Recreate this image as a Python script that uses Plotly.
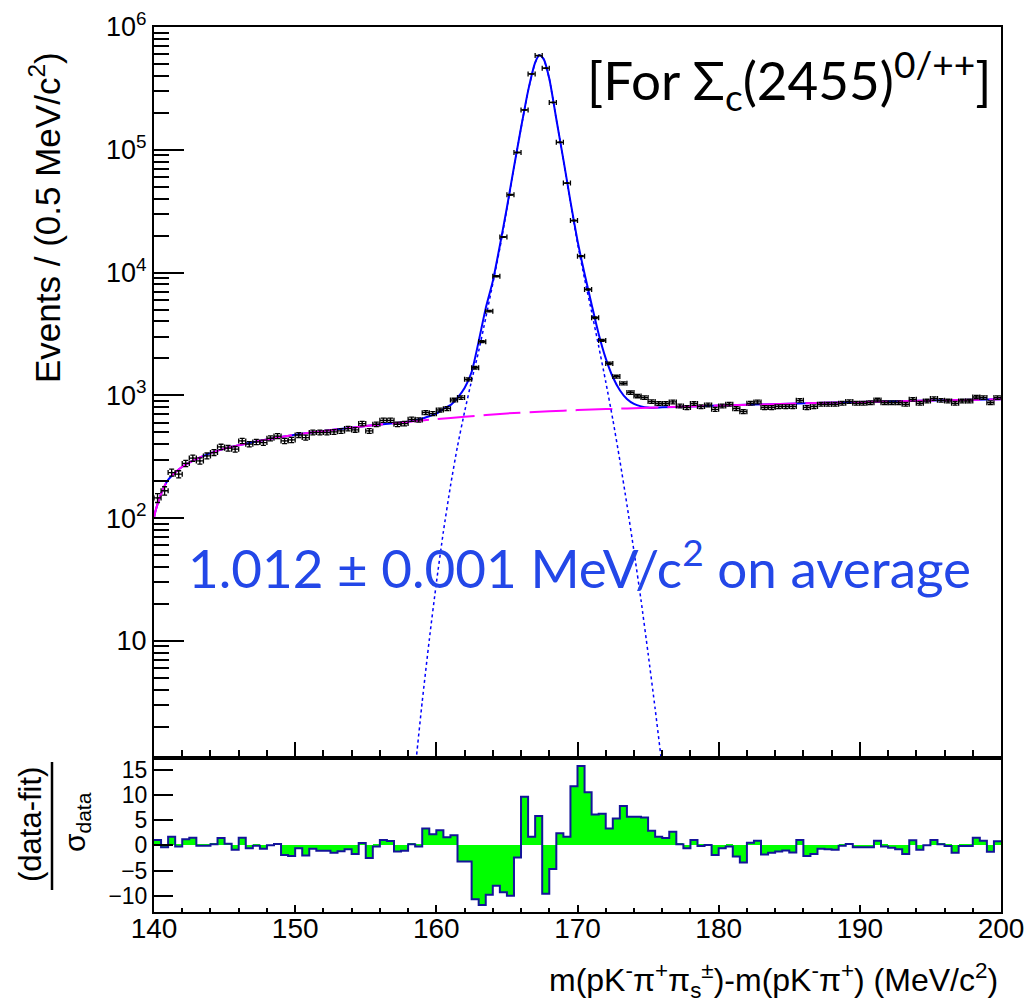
import numpy as np
import plotly.graph_objects as go

# ---------------- data ----------------
bin_lo = 140.0
bin_w = 0.5
n_bins = 120
bin_centers = [bin_lo + bin_w * (i + 0.5) for i in range(n_bins)]
bin_edges = [bin_lo + bin_w * i for i in range(n_bins + 1)]

counts = [146, 167, 235, 228, 279, 308, 292, 321, 342, 380,
          371, 364, 425, 400, 417, 412, 447, 466, 425, 433,
          475, 453, 498, 498, 498, 504, 513, 536, 523, 589,
          513, 581, 626, 626, 581, 589, 638, 630, 722, 709,
          759, 779, 916, 958, 1349, 1679, 2735, 4845, 9330, 19500,
          43000, 95000, 211000, 415000, 585000, 462000, 243000, 115000, 53500, 26500,
          13600, 7280, 4290, 2800, 1820, 1420, 1253, 1052, 987, 958,
          889, 857, 857, 883, 818, 794, 857, 809, 834, 769,
          818, 845, 779, 736, 861, 883, 794, 794, 809, 809,
          809, 910, 794, 809, 845, 845, 845, 861, 889, 861,
          861, 871, 916, 871, 871, 871, 845, 927, 861, 899,
          940, 910, 899, 861, 899, 899, 969, 958, 871, 958]

pulls = [1.05, -0.4, 1.7, -0.26, 1.2, 1.5, -0.1, -0.1, 0.2, 1.45,
         0.33, -0.9, 1.5, -0.6, -0.07, -0.7, 0.0, 0.26, -1.9, -2.1,
         -0.6, -2.0, -0.7, -1.1, -1.1, -1.45, -1.2, -0.8, -1.7, 0.46,
         -2.5, -0.26, 1.05, 0.85, -1.25, -1.1, 0.2, -0.26, 3.35, 2.2,
         3.0, 1.6, 2.0, -3.2, -3.2, -10.7, -11.8, -9.8, -8.0, -9.3,
         -10.0, -2.4, 9.6, 1.7, 5.8, -9.6, -4.7, 2.4, 1.7, 11.7,
         15.7, 10.5, 6.1, 6.25, 3.35, 5.3, 7.8, 5.66, 5.66, 5.5,
         2.9, 1.7, 1.45, 2.7, 0.2, -0.6, 1.05, -0.13, 0.07, -1.9,
         -0.6, -0.26, -2.2, -3.4, 0.5, 0.9, -1.8, -1.45, -1.25, -1.05,
         -1.4, 1.05, -2.1, -1.7, -0.66, -0.8, -0.86, -0.07, 0.26, -0.4,
         -0.4, -0.4, 0.9, -0.26, -0.46, -0.8, -1.7, 1.0, -0.9, 0.0,
         1.05, 0.2, -0.13, -1.45, -0.13, -0.13, 1.5, 0.9, -1.3, 0.8]

# background (dashed magenta)
bkg_x = [140.0, 140.07, 140.25, 140.45, 140.75, 141.0, 141.5, 142.0, 143.0, 144.0,
         145.0, 146.0, 147.0, 148.0, 150.0, 152.0, 154.0, 156.0, 158.0, 160.0,
         162.0, 165.0, 168.0, 170.0, 172.0, 175.0, 178.0, 180.0, 185.0, 190.0,
         195.0, 200.0]
bkg_y = [100, 110, 130, 152, 183, 205, 235, 262, 302, 338,
         368, 392, 415, 437, 478, 512, 545, 578, 608, 640,
         668, 712, 742, 758, 772, 792, 812, 825, 855, 882,
         906, 927]

# total fit (solid blue)
fit_x = [140.0, 140.07, 140.25, 140.45, 140.75, 141.0, 141.5, 142.0, 143.0, 144.0,
         145.0, 146.0, 147.0, 148.0, 150.0, 152.0, 154.0, 156.0, 158.0, 159.0,
         159.5, 160.0, 160.5, 161.0, 161.5, 162.0, 162.5, 163.0, 163.5, 164.0,
         164.5, 165.0, 165.5, 166.0, 166.5, 167.0, 167.3, 167.6, 168.0, 168.5,
         169.0, 169.5, 170.0, 170.5, 171.0, 171.5, 172.0, 172.5, 173.0, 173.5,
         174.0, 174.5, 175.0, 176.0, 178.0, 180.0, 185.0, 190.0, 195.0, 200.0]
fit_y = [100, 110, 130, 152, 183, 205, 235, 262, 302, 338,
         368, 392, 415, 437, 478, 512, 545, 578, 610, 648,
         676, 708, 776, 832, 955, 1148, 1549, 2750, 5130, 8510,
         16600, 33900, 72400, 151000, 302000, 513000, 592000, 550000, 380000, 178000,
         83200, 38000, 18200, 9770, 5500, 3160, 2000, 1410, 1100, 933,
         851, 813, 794, 798, 812, 825, 855, 882, 906, 927]

# signal component (dotted blue)
sig_x = [158.5, 158.6, 159.0, 159.5, 160.0, 160.5, 161.0, 161.5, 162.0, 162.5,
         163.0, 163.5, 164.0, 164.5, 165.0, 165.5, 166.0, 166.5, 167.0, 167.3,
         167.6, 168.0, 168.5, 169.0, 169.5, 170.0, 170.5, 171.0, 171.5, 172.0,
         172.5, 173.0, 173.5, 174.0, 174.5, 175.0, 175.5, 175.9, 176.0]
sig_y = [0.85, 1.16, 3.2, 10.2, 29.5, 77.6, 182, 385, 733, 1320,
         2290, 4270, 8130, 15800, 33100, 71500, 150000, 300000, 511000, 590000,
         548000, 379000, 177000, 82400, 37200, 17400, 8900, 4790, 2510, 1290,
         637, 295, 129, 53.7, 21.4, 7.9, 2.8, 1.16, 0.9]

y_tick_vals = [10, 100, 1000, 10000, 100000, 1000000]
y_tick_text = ["10", "10<sup>2</sup>", "10<sup>3</sup>", "10<sup>4</sup>",
               "10<sup>5</sup>", "10<sup>6</sup>"]
y_minor_vals = [m * 10 ** e for e in range(0, 6) for m in range(2, 10)]
x_tick_vals = [140, 150, 160, 170, 180, 190, 200]
pull_tick_vals = [-10, -5, 0, 5, 10, 15]

# ---------------- figure ----------------
OFF = 8  # page body margin
W, H = 1025, 996
ML, MR, MT, MB = 146, 32, 19, 92
PW = W - ML - MR
PH = H - MT - MB


def px2x(px):
    # screenshot pixel -> paper x
    return (px - OFF - ML) / PW


def px2y(py):
    # screenshot pixel -> paper y
    return (H - MB - (py - OFF)) / PH


FONT = "Liberation Sans, Arial, Helvetica, sans-serif"
BLUE = "#0000ff"

fig = go.Figure()

# total fit
fig.add_trace(go.Scatter(x=fit_x, y=fit_y, mode="lines", line=dict(color=BLUE, width=2, shape="spline", smoothing=0.6),
                         xaxis="x", yaxis="y", showlegend=False, hoverinfo="skip"))
# background
fig.add_trace(go.Scatter(x=bkg_x, y=bkg_y, mode="lines",
                         line=dict(color="#ff00ff", width=2, dash="37px,9px", shape="spline", smoothing=0.6),
                         xaxis="x", yaxis="y", showlegend=False, hoverinfo="skip"))
# signal
fig.add_trace(go.Scatter(x=sig_x, y=sig_y, mode="lines",
                         line=dict(color=BLUE, width=1.5, dash="dot", shape="spline", smoothing=0.6),
                         xaxis="x", yaxis="y", showlegend=False, hoverinfo="skip"))
# data
fig.add_trace(go.Scatter(x=bin_centers, y=counts, mode="markers",
                         marker=dict(color="black", size=2),
                         error_x=dict(type="constant", value=bin_w / 2, color="black", thickness=1.3, width=2.5),
                         error_y=dict(type="data", array=list(np.sqrt(counts)), color="black", thickness=1.3, width=2.5),
                         xaxis="x", yaxis="y", showlegend=False))

# pulls
fig.add_trace(go.Bar(x=bin_centers, y=pulls, width=bin_w, marker=dict(color="#00ff00", line=dict(width=0)),
                     xaxis="x2", yaxis="y2", showlegend=False))
fig.add_trace(go.Scatter(x=bin_edges, y=pulls + [pulls[-1]], mode="lines",
                         line=dict(color="#14149a", width=2, shape="hv"),
                         xaxis="x2", yaxis="y2", showlegend=False))

axis_common = dict(showline=True, linecolor="black", linewidth=2, mirror=True, automargin=False,
                   ticks="inside", tickcolor="black", tickwidth=1.8, showgrid=False, zeroline=False,
                   ticklabeloverflow="allow",
                   tickfont=dict(family=FONT, size=27, color="black"))

split = px2y(757.5)
fig.update_layout(
    width=W, height=H,
    margin=dict(l=ML, r=MR, t=MT, b=MB, autoexpand=False),
    paper_bgcolor="white", plot_bgcolor="white",
    bargap=0,
    xaxis=dict(axis_common, domain=[0, 1], anchor="y", range=[140, 200], tickvals=x_tick_vals,
               showticklabels=False, ticklen=16,
               minor=dict(ticks="inside", dtick=2, tick0=140, ticklen=8, tickwidth=1.8, tickcolor="black")),
    yaxis=dict(axis_common, domain=[split, 1], anchor="x", type="log", range=[0.05, 6],
               tickvals=y_tick_vals, ticktext=y_tick_text, ticklen=30,
               minor=dict(ticks="inside", tickmode="array", tickvals=y_minor_vals, ticklen=15,
                          tickwidth=1.8, tickcolor="black")),
    xaxis2=dict(axis_common, domain=[0, 1], anchor="y2", range=[140, 200], tickvals=x_tick_vals,
                ticklen=7, matches="x", ticklabelstandoff=-10,
                tickfont=dict(family=FONT, size=28, color="black"),
                minor=dict(ticks="inside", dtick=2, tick0=140, ticklen=4, tickwidth=1.8, tickcolor="black")),
    yaxis2=dict(axis_common, domain=[0, split - 0.001], anchor="x2", range=[-13.2, 17.2],
                tickvals=pull_tick_vals, ticklen=19,
                tickfont=dict(family=FONT, size=23, color="black")),
)

annotations = [
    dict(text="Events / (0.5 MeV/c<sup>2</sup>)", x=px2x(45), y=px2y(218), textangle=-90,
         font=dict(family=FONT, size=35, color="black")),
    dict(text="(data-fit)", x=px2x(30), y=px2y(825), textangle=-90,
         font=dict(family=FONT, size=31, color="black")),
    dict(text="σ<sub>data</sub>", x=px2x(76), y=px2y(822), textangle=-90,
         font=dict(family=FONT, size=30, color="black")),
    dict(text="m(pK<sup>-</sup>π<sup>+</sup>π<sub>s</sub><sup>±</sup>)-m(pK<sup>-</sup>π<sup>+</sup>) (MeV/c<sup>2</sup>)",
         x=px2x(1000), y=px2y(980), xanchor="right",
         font=dict(family=FONT, size=32, color="black")),
    dict(text="[For Σ<sub>c</sub>(2455)<sup>0/++</sup>]", x=px2x(585), y=px2y(80), xanchor="left",
         font=dict(family="Lato, Open Sans, sans-serif", size=53, color="black")),
    dict(text="1.012 ± 0.001 MeV/c<sup>2</sup> on average", x=px2x(579), y=px2y(564),
         font=dict(family="Lato, Open Sans, sans-serif", size=53, color="#2347e8")),
]
for a in annotations:
    a.setdefault("xanchor", "center")
    a.update(xref="paper", yref="paper", showarrow=False, yanchor="middle")
fig.update_layout(annotations=annotations)

fig.add_shape(type="line", xref="paper", yref="paper", x0=px2x(52), x1=px2x(52), y0=px2y(762), y1=px2y(890),
              line=dict(color="black", width=2.5))

fig.write_html("out.html")
